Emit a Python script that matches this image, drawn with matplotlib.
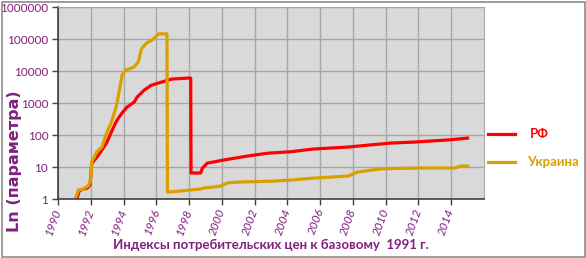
import matplotlib
matplotlib.use("Agg")
import matplotlib.pyplot as plt
from matplotlib.patches import Rectangle
from matplotlib.lines import Line2D

plt.rcParams['font.family'] = ['Lato', 'DejaVu Sans']

rf_years = [1991.15, 1991.3, 1991.5, 1991.8, 1991.95, 1992.0, 1992.06, 1992.37, 1992.68, 1992.99,
            1993.3, 1993.6, 1993.91, 1994.22, 1994.65, 1994.84, 1995.27, 1995.7, 1996.32, 1996.94,
            1997.93, 1998.1, 1998.12, 1998.7, 1998.82, 1999.12, 1999.49, 2000.1, 2001.57, 2002.8,
            2004.2, 2005.6, 2007.7, 2010.3, 2011.7, 2013.8, 2015.0]
rf_values = [1.0, 1.8, 2.0, 2.2, 2.8, 5.0, 13, 20, 34, 60,
             140, 290, 490, 750, 1070, 1550, 2550, 3600, 4500, 5600,
             6000, 6000, 6.5, 6.5, 9.3, 13.3, 14.3, 16.5, 22, 27,
             30, 36.5, 42, 56, 60, 70, 80]

ua_years = [1991.05, 1991.25, 1991.5, 1991.85, 1992.0, 1992.05, 1992.37, 1992.68, 1992.99, 1993.24,
            1993.55, 1993.73, 1993.91, 1994.15, 1994.65, 1994.9, 1995.1, 1995.4, 1995.75, 1995.95,
            1996.15, 1996.65, 1996.68, 1997.5, 1998.0, 1998.7, 1998.9, 1999.9, 2000.35, 2001.15,
            2003.0, 2004.2, 2005.6, 2007.7, 2008.3, 2009.7, 2010.5, 2012.2, 2014.2, 2014.6, 2015.0]
ua_values = [1.0, 1.9, 2.0, 2.6, 4.0, 14, 30, 42, 124, 237,
             750, 2200, 7500, 10700, 13400, 19000, 50000, 74000, 93000, 116000,
             145000, 145000, 1.65, 1.78, 1.9, 2.05, 2.2, 2.5, 3.2, 3.4,
             3.6, 3.9, 4.5, 5.2, 7.0, 8.7, 9.0, 9.3, 9.3, 10.7, 10.7]

x_ticks = list(range(1990, 2016, 2))
y_ticks = [1, 10, 100, 1000, 10000, 100000, 1000000]
y_tick_labels = ["1", "10", "100", "1000", "10000", "100000", "1000000"]

RED = "#FF0000"
GOLD = "#D9A000"
PURPLE = "#80207F"

W, H = 586, 258
fig = plt.figure(figsize=(W / 100, H / 100), dpi=100)
fig.patch.set_facecolor("white")
fig.patches.append(Rectangle((1.5 / W, 1.5 / H), (W - 3) / W, (H - 3) / H, transform=fig.transFigure,
                             fill=False, edgecolor="#8c8c8c", linewidth=1.2))

ax = fig.add_axes([58 / W, (H - 199) / H, (484 - 58) / W, (199 - 7) / H])
ax.set_facecolor("#D9D9D9")
ax.set_yscale("log")
ax.set_xlim(1990, 2016)
ax.set_ylim(1, 1000000)
ax.plot(rf_years, rf_values, color=RED, lw=2.3, solid_joinstyle="round")
ax.plot(ua_years, ua_values, color=GOLD, lw=2.3, solid_joinstyle="round")

ax.set_xticks(x_ticks)
ax.set_xticklabels([str(t) for t in x_ticks], rotation=70, ha="right", va="center",
                   rotation_mode="anchor", color=PURPLE, fontsize=8.5, style="italic")
ax.set_yticks(y_ticks)
ax.set_yticklabels(y_tick_labels, color=PURPLE, fontsize=8.5)
ax.yaxis.set_minor_locator(matplotlib.ticker.NullLocator())
ax.tick_params(axis="both", length=4, color="#404040", width=1)
ax.tick_params(axis="x", pad=3)
ax.tick_params(axis="y", pad=3)
ax.grid(True, color="#A6A6A6", lw=1)
ax.set_axisbelow(True)
for s in ["top", "right"]:
    ax.spines[s].set_color("#A6A6A6")
for s in ["left", "bottom"]:
    ax.spines[s].set_color("#404040")
    ax.spines[s].set_linewidth(1.2)

fig.text(15 / W, 1 - 161 / H, "Ln (параметра)", rotation=90, ha="center", va="center",
         color=PURPLE, fontsize=11.5, fontweight="bold", family=["DejaVu Sans"])
fig.text(271 / W, 1 - 245 / H, "Индексы потребительских цен к базовому  1991 г.", ha="center",
         va="center", color=PURPLE, fontsize=9.5, fontweight="bold")

fig.lines.append(Line2D([488 / W, 515 / W], [1 - 134 / H, 1 - 134 / H], transform=fig.transFigure,
                        color=RED, lw=2.3))
fig.lines.append(Line2D([488 / W, 515 / W], [1 - 162 / H, 1 - 162 / H], transform=fig.transFigure,
                        color=GOLD, lw=2.3))
fig.text(530 / W, 1 - 134 / H, "РФ", color=RED, fontsize=9.5, fontweight="bold", va="center")
fig.text(527 / W, 1 - 162 / H, "Украина", color=GOLD, fontsize=9.5, fontweight="bold", va="center")

fig.savefig("out.png", dpi=100, facecolor=fig.get_facecolor())
